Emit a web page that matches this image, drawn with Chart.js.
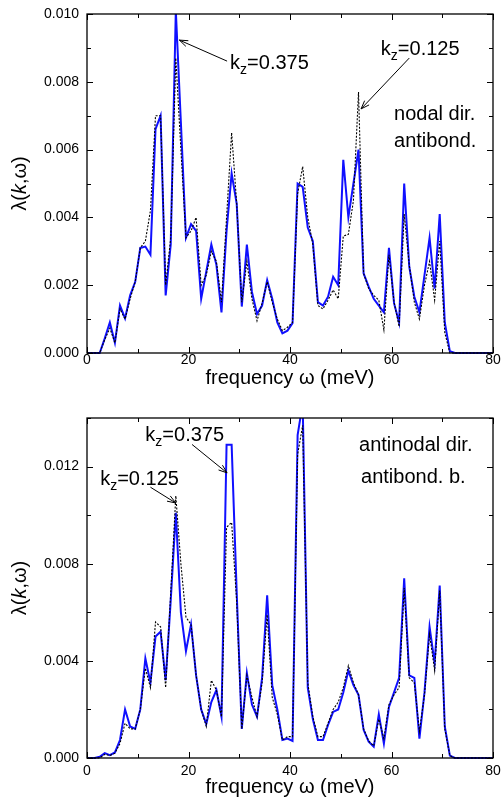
<!DOCTYPE html>
<html lang="en">
<head>
<meta charset="UTF-8" />
<title>lambda(k, omega)</title>
<script src="https://cdn.jsdelivr.net/npm/chart.js"></script>
<style>
  html, body { margin: 0; padding: 0; background: #fff; }
  body { width: 502px; height: 800px; position: relative; overflow: hidden; }
  .panel { position: absolute; left: 0; width: 502px; }
  #top { top: 0; height: 395px; }
  #bottom { top: 395px; height: 405px; }
</style>
</head>
<body>
<div class="panel" id="top"><canvas id="nodalChart"></canvas></div>
<div class="panel" id="bottom"><canvas id="antinodalChart"></canvas></div>

<script>
// frequency grid (meV)
const freq = [
  0, 0.5, 1.5, 2.5, 3.5, 4.5, 5.5, 6.5, 7.5, 8.5,
  9.5, 10.5, 11.5, 12.5, 13.5, 14.5, 15.5, 16.5, 17.5, 18.5,
  19.5, 20.5, 21.5, 22.5, 23.5, 24.5, 25.5, 26.5, 27.5, 28.5,
  29.5, 30.5, 31.5, 32.5, 33.5, 34.5, 35.5, 36.5, 37.5, 38.5,
  39.5, 40.5, 41.5, 42.5, 43.5, 44.5, 45.5, 46.5, 47.5, 48.5,
  49.5, 50.5, 51.5, 52.5, 53.5, 54.5, 55.5, 56.5, 57.5, 58.5,
  59.5, 60.5, 61.5, 62.5, 63.5, 64.5, 65.5, 66.5, 67.5, 68.5,
  69.5, 70.5, 71.5, 72.5, 80
];

// nodal direction, antibonding band
const nodalKz0375 = [
  0, 0, 0, 0, 0.00043, 0.0009, 0.0003, 0.0014, 0.00102, 0.0017,
  0.0021, 0.0031, 0.00314, 0.0029, 0.0066, 0.0070, 0.0017, 0.0032, 0.0101, 0.0068,
  0.0034, 0.0038, 0.0036, 0.0016, 0.0024, 0.0032, 0.0026, 0.0012, 0.0036, 0.0053,
  0.0044, 0.00137, 0.0032, 0.0018, 0.00115, 0.0014, 0.00215, 0.0016, 0.0009, 0.00058,
  0.00066, 0.00088, 0.0050, 0.0049, 0.0037, 0.0033, 0.0015, 0.0014, 0.00166, 0.00225,
  0.0020, 0.0057, 0.0040, 0.0050, 0.0060, 0.00235, 0.00196, 0.0016, 0.0014, 0.0012,
  0.0031, 0.00147, 0.0009, 0.0050, 0.00255, 0.00166, 0.0012, 0.0023, 0.0034, 0.0019,
  0.0041, 0.0009, 0.00005, 0, 0
];
const nodalKz0125 = [
  0, 0, 0, 0, 0.0004, 0.00073, 0.0003, 0.0013, 0.0010, 0.0016,
  0.0021, 0.0031, 0.0033, 0.0042, 0.0070, 0.0070, 0.0020, 0.0034, 0.0087, 0.0060,
  0.0034, 0.0036, 0.0040, 0.0020, 0.0023, 0.0030, 0.0027, 0.0015, 0.0040, 0.0065,
  0.0044, 0.0015, 0.0027, 0.0016, 0.00095, 0.00147, 0.0021, 0.0015, 0.0010, 0.00066,
  0.00076, 0.0009, 0.0047, 0.0055, 0.0040, 0.0032, 0.0014, 0.0013, 0.00156, 0.00186,
  0.0016, 0.00345, 0.0035, 0.0045, 0.0077, 0.00235, 0.0019, 0.0017, 0.00156, 0.00068,
  0.0029, 0.0015, 0.00078, 0.0041, 0.0026, 0.0015, 0.0010, 0.0020, 0.0027, 0.00156,
  0.0033, 0.0006, 0, 0, 0
];

// antinodal direction, antibonding band
const antinodalKz0375 = [
  0, 0, 0, 0.00005, 0.0002, 0.00012, 0.00023, 0.00074, 0.0020, 0.0013,
  0.0012, 0.0020, 0.0041, 0.0031, 0.0050, 0.0052, 0.0032, 0.0065, 0.0101, 0.0060,
  0.0044, 0.0055, 0.0034, 0.0020, 0.0014, 0.0023, 0.0028, 0.0017, 0.0129, 0.0129,
  0.0068, 0.0012, 0.0035, 0.0022, 0.0017, 0.0033, 0.0067, 0.0030, 0.0020, 0.00074,
  0.0008, 0.0007, 0.0133, 0.0146, 0.0029, 0.0016, 0.00074, 0.00074, 0.00136, 0.0019,
  0.0020, 0.0027, 0.0036, 0.0030, 0.0026, 0.00116, 0.00067, 0.00047, 0.0018, 0.0006,
  0.0021, 0.0027, 0.0033, 0.0074, 0.0034, 0.0033, 0.0008, 0.0027, 0.0054, 0.0039,
  0.0071, 0.0013, 0.0001, 0, 0
];
const antinodalKz0125 = [
  0, 0, 0, 0, 0.00015, 0.0001, 0.0002, 0.0006, 0.00143, 0.0012,
  0.0012, 0.0020, 0.0037, 0.0029, 0.0056, 0.0054, 0.0029, 0.0068, 0.0108, 0.0080,
  0.0058, 0.0055, 0.0034, 0.0020, 0.0013, 0.0032, 0.0028, 0.0017, 0.0095, 0.0097,
  0.0064, 0.0012, 0.0034, 0.0025, 0.0017, 0.0031, 0.0059, 0.0025, 0.0018, 0.00074,
  0.00088, 0.00088, 0.0125, 0.0137, 0.0031, 0.0017, 0.00088, 0.00088, 0.00143, 0.0020,
  0.0023, 0.0029, 0.0038, 0.0031, 0.0026, 0.0012, 0.0007, 0.0005, 0.0016, 0.0008,
  0.0022, 0.0026, 0.0029, 0.0070, 0.0033, 0.0031, 0.0011, 0.0026, 0.0051, 0.0036,
  0.0069, 0.0012, 0.0001, 0, 0
];

const FONT = "'Liberation Sans', Arial, Helvetica, sans-serif";
const BLUE = 'rgb(16, 16, 255)';

// box, inward ticks, y title and the labels/arrows
const framePlugin = {
  id: 'frame',
  afterDraw(chart, args, opts) {
    const { ctx, chartArea: a, scales: { x, y } } = chart;
    ctx.save();
    ctx.strokeStyle = '#000';
    ctx.fillStyle = '#000';

    ctx.lineWidth = 1;
    ctx.beginPath();
    x.ticks.forEach((t, i) => {
      const px = Math.round(x.getPixelForValue(t.value)) + 0.5;
      const len = i % 2 === 0 ? 6 : 4;
      ctx.moveTo(px, a.bottom); ctx.lineTo(px, a.bottom - len);
      ctx.moveTo(px, a.top); ctx.lineTo(px, a.top + len);
    });
    y.ticks.forEach((t, i) => {
      const py = Math.round(y.getPixelForValue(t.value)) + 0.5;
      const len = i % 2 === 0 ? 6 : 4;
      ctx.moveTo(a.left, py); ctx.lineTo(a.left + len, py);
      ctx.moveTo(a.right, py); ctx.lineTo(a.right - len, py);
    });
    ctx.stroke();

    ctx.lineWidth = 1.3;
    ctx.strokeRect(a.left, a.top, a.right - a.left, a.bottom - a.top);

    // y axis title: λ(k,ω) with italic k
    const parts = [['λ(', 'normal'], ['k', 'italic'], [',ω)', 'normal']];
    ctx.save();
    ctx.translate(20, (a.top + a.bottom) / 2);
    ctx.rotate(-Math.PI / 2);
    ctx.textBaseline = 'middle';
    let total = 0;
    parts.forEach(p => { ctx.font = `${p[1]} 20px ${FONT}`; total += ctx.measureText(p[0]).width; });
    let cx = -total / 2;
    parts.forEach(p => {
      ctx.font = `${p[1]} 20px ${FONT}`;
      ctx.fillText(p[0], cx, 0);
      cx += ctx.measureText(p[0]).width;
    });
    ctx.restore();

    // arrows
    ctx.lineWidth = 1;
    (opts.arrows || []).forEach(ar => {
      const x0 = x.getPixelForValue(ar.from[0]), y0 = y.getPixelForValue(ar.from[1]);
      const x1 = x.getPixelForValue(ar.to[0]), y1 = y.getPixelForValue(ar.to[1]);
      const ang = Math.atan2(y1 - y0, x1 - x0);
      ctx.beginPath();
      ctx.moveTo(x0, y0); ctx.lineTo(x1, y1);
      ctx.moveTo(x1 - 9 * Math.cos(ang - 0.35), y1 - 9 * Math.sin(ang - 0.35));
      ctx.lineTo(x1, y1);
      ctx.lineTo(x1 - 9 * Math.cos(ang + 0.35), y1 - 9 * Math.sin(ang + 0.35));
      ctx.stroke();
    });

    // text labels (k with subscript z)
    ctx.textBaseline = 'alphabetic';
    ctx.textAlign = 'left';
    (opts.labels || []).forEach(lb => {
      let px = x.getPixelForValue(lb.x);
      const py = y.getPixelForValue(lb.y);
      if (lb.sub) {
        ctx.font = `20px ${FONT}`;
        ctx.fillText('k', px, py);
        px += ctx.measureText('k').width;
        ctx.font = `14px ${FONT}`;
        ctx.fillText(lb.sub, px, py + 5);
        px += ctx.measureText(lb.sub).width;
      }
      ctx.font = `20px ${FONT}`;
      ctx.fillText(lb.text, px, py);
    });
    ctx.restore();
  }
};

function makeChart(id, solid, dashed, yMax, yStep, topPad, titlePad, tickPad, notes) {
  return new Chart(document.getElementById(id), {
    type: 'line',
    data: {
      datasets: [
        {
          label: 'kz=0.125',
          data: freq.map((f, i) => ({ x: f, y: dashed[i] })),
          borderColor: '#000',
          borderWidth: 1.1,
          borderDash: [2, 1.5],
          pointRadius: 0,
          tension: 0,
          order: 0,
          clip: { left: 0, top: 0, right: 0, bottom: 2 }
        },
        {
          label: 'kz=0.375',
          data: freq.map((f, i) => ({ x: f, y: solid[i] })),
          borderColor: BLUE,
          borderWidth: 2,
          pointRadius: 0,
          tension: 0,
          order: 1,
          clip: { left: 0, top: 0, right: 0, bottom: 2 }
        }
      ]
    },
    options: {
      responsive: true,
      maintainAspectRatio: false,
      animation: false,
      devicePixelRatio: 1,
      layout: { padding: { left: 0, right: 9, top: topPad, bottom: 0 } },
      plugins: {
        legend: { display: false },
        tooltip: { enabled: false },
        frame: notes
      },
      scales: {
        x: {
          type: 'linear',
          min: 0, max: 80,
          grid: { display: false, drawTicks: false },
          border: { display: false },
          ticks: {
            stepSize: 10,
            autoSkip: false,
            maxRotation: 0,
            padding: tickPad,
            color: '#000',
            font: { family: FONT, size: 14, lineHeight: 1 },
            callback: (v, i) => (i % 2 === 0 ? String(v) : '')
          },
          title: {
            display: true,
            text: 'frequency ω (meV)',
            color: '#000',
            font: { family: FONT, size: 20 },
            padding: { top: 0, bottom: titlePad }
          },
          afterFit: s => { s.height = 42; s.paddingLeft = 0; s.paddingRight = 0; }
        },
        y: {
          min: 0, max: yMax,
          grid: { display: false, drawTicks: false },
          border: { display: false },
          ticks: {
            stepSize: yStep,
            autoSkip: false,
            padding: 8,
            color: '#000',
            font: { family: FONT, size: 14 },
            callback: (v, i) => (i % 2 === 0 ? v.toFixed(3) : '')
          },
          afterFit: s => { s.width = 87; s.paddingTop = 0; s.paddingBottom = 0; }
        }
      }
    },
    plugins: [framePlugin]
  });
}

makeChart('nodalChart', nodalKz0375, nodalKz0125, 0.010, 0.001, 14, 5, 0, {
  labels: [
    { sub: 'z', text: '=0.375', x: 28.2, y: 0.00838 },
    { sub: 'z', text: '=0.125', x: 57.9, y: 0.0088 },
    { text: 'nodal dir.', x: 60.5, y: 0.00687 },
    { text: 'antibond.', x: 60.5, y: 0.00608 }
  ],
  arrows: [
    { from: [27.6, 0.00861], to: [18.2, 0.00923] },
    { from: [63.5, 0.0087], to: [54.0, 0.0072] }
  ]
});

makeChart('antinodalChart', antinodalKz0375, antinodalKz0125, 0.014, 0.002, 23, 1, 6.5, {
  labels: [
    { sub: 'z', text: '=0.125', x: 2.6, y: 0.01124 },
    { sub: 'z', text: '=0.375', x: 11.5, y: 0.01304 },
    { text: 'antinodal dir.', x: 53.6, y: 0.01263 },
    { text: 'antibond. b.', x: 54.0, y: 0.01133 }
  ],
  arrows: [
    { from: [12.5, 0.01115], to: [17.5, 0.0105] },
    { from: [20.7, 0.01291], to: [27.6, 0.01174] }
  ]
});
</script>
</body>
</html>
